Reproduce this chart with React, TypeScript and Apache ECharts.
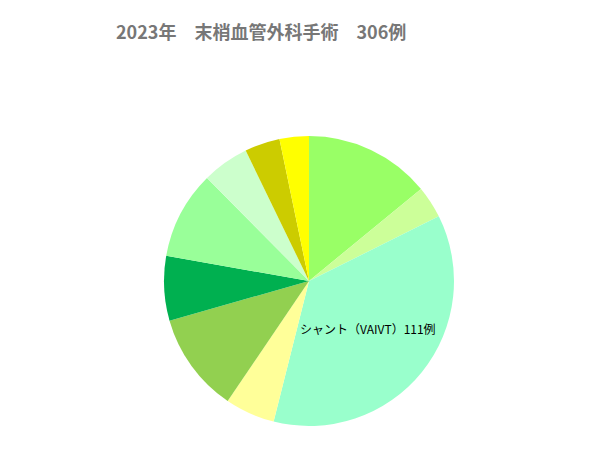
import { useEffect, useRef } from 'react';
import * as echarts from 'echarts';

const CATEGORIES = [
  '血管内治療',
  'ステントグラフト',
  'シャント（VAIVT）',
  '静脈瘤',
  'バイパス術',
  '血栓除去術',
  'シャント作成',
  '動脈瘤',
  '切断術',
  'その他',
];
const COUNTS = [43, 11, 111, 17, 34, 22, 30, 16, 12, 10];
const COLORS = [
  '#99FF66',
  '#CCFF99',
  '#99FFCC',
  '#FFFF99',
  '#92D050',
  '#00B050',
  '#99FF99',
  '#CCFFCC',
  '#CCCC00',
  '#FFFF00',
];
const LABELED = 'シャント（VAIVT）';
const TITLE = '2023年　末梢血管外科手術　306例';

export default function App() {
  const ref = useRef<HTMLDivElement>(null);

  useEffect(() => {
    document.body.style.margin = '0';
    if (!ref.current) return;
    const chart = echarts.init(ref.current, undefined, { renderer: 'svg' });
    chart.setOption({
      animation: false,
      title: {
        text: TITLE,
        left: 111,
        top: 17,
        textStyle: {
          color: '#777777',
          fontSize: 18,
          fontWeight: 'bold',
          fontFamily: 'Noto Sans CJK JP',
        },
      },
      series: [
        {
          type: 'pie',
          center: [309, 281],
          radius: 145,
          startAngle: 90,
          clockwise: true,
          avoidLabelOverlap: false,
          itemStyle: { borderWidth: 0 },
          labelLine: { show: false },
          data: CATEGORIES.map((name, i) => ({
            name,
            value: COUNTS[i],
            itemStyle: { color: COLORS[i] },
            label: {
              show: name === LABELED,
              position: 'inner',
              formatter: '{b}{c}例',
              color: '#000000',
              fontSize: 12,
              fontFamily: 'Noto Sans CJK JP',
            },
          })),
        },
      ],
    });
    return () => chart.dispose();
  }, []);

  return <div ref={ref} style={{ width: 610, height: 454 }} />;
}
